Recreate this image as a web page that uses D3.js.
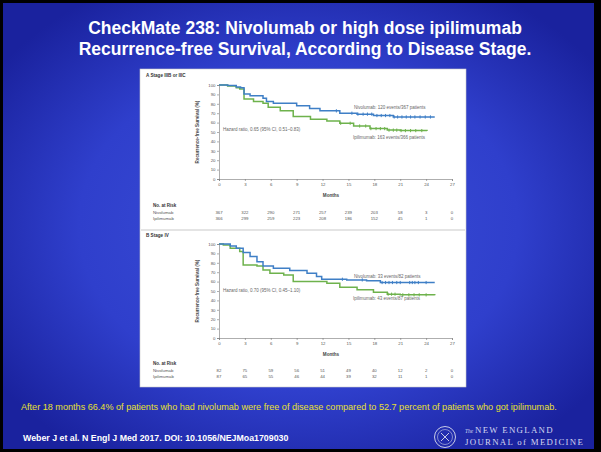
<!DOCTYPE html>
<html>
<head>
<meta charset="utf-8">
<script src="https://cdn.jsdelivr.net/npm/d3@7"></script>
<style>
  body { margin: 0; background: #000; }
  svg { display: block; }
</style>
</head>
<body>
<div id="the_chart"></div>
<script>
// survival curves, [month, % recurrence-free]
var nivoA = [[0,100],[1,99.5],[2,98],[2.5,97],[2.9,90.5],[3.6,88.5],[5.1,86],[5.5,82.5],[6.3,80.5],[9,78],[10.5,75],[11.7,72.5],[14,70],[16,69],[17.9,67.5],[20.2,66],[25,66]];
var ipiA = [[0,100],[1,99],[2,97],[2.4,95.7],[2.9,85],[4,82.5],[5.1,80.7],[5.7,76.4],[7.1,72.5],[8.6,66.4],[10.6,63.6],[12.5,61.8],[14,59.3],[15.6,56.4],[17.5,53.6],[19.5,52],[21,51.5],[24.1,51]];
var nivoB = [[0,100],[1.3,98],[2,95.4],[2.8,91],[3.6,86.6],[4.4,81],[5.1,76.7],[6.3,74.2],[8.2,71.7],[10.2,68.9],[11.3,65.4],[11.9,62.5],[14.8,61.8],[17.1,60.8],[18.7,59],[25,59]];
var ipiB = [[0,100],[0.5,99],[1.3,95.4],[2.4,91.9],[2.8,77.7],[4.4,76.7],[5.1,72.4],[5.9,68.9],[7.5,67.1],[8.6,60],[12.5,58.3],[14,54],[16,51.2],[17.9,48.8],[19.5,46.6],[21,45.9],[25,45.6]];

// censored observations (months)
var nivoA_cens = [13.6,15.4,16.1,16.7,17.2,17.7,18.3,18.8,19.3,19.8,20.3,20.7,21.2,21.7,22.2,22.7,23.3,23.9,24.5];
var ipiA_cens = [14.1,15.2,16.3,17.0,17.6,18.2,18.7,19.2,19.7,20.2,20.6,21.1,21.6,22.2,22.8,23.5];
var nivoB_cens = [14.3,16.6,18.9,19.3,19.7,20.1,20.6,21.0,22.1,22.4,22.7,23.1,24.0];
var ipiB_cens = [19.6,20.0,20.4,21.3,22.0,22.6,23.2,24.0];

var monthTicks = [0,3,6,9,12,15,18,21,24,27];
var pctTicks = [0,10,20,30,40,50,60,70,80,90,100];

// numbers at risk at each month tick
var riskNivoA = [367,322,290,271,257,239,203,58,3,0];
var riskIpiA = [366,299,259,223,208,186,152,45,1,0];
var riskNivoB = [82,75,59,56,51,49,40,12,2,0];
var riskIpiB = [87,65,55,46,44,39,32,11,1,0];

var titleLines = ["CheckMate 238: Nivolumab or high dose ipilimumab",
                  "Recurrence-free Survival, According to Disease Stage."];
var note = "After 18 months 66.4% of patients who had nivolumab were free of disease compared to 52.7 percent of patients who got ipilimumab.";
var cite = "Weber J et al. N Engl J Med 2017. DOI: 10.1056/NEJMoa1709030";

var w = 601, h = 452;
var blue = "#3f7fc6", green = "#6eb24c";

var svg = d3.select("#the_chart")
    .append("svg")
    .attr("width", w)
    .attr("height", h);

var defs = svg.append("defs");
var grad = defs.append("radialGradient")
    .attr("id", "bg")
    .attr("cx", "50%").attr("cy", "50%").attr("r", "62%");
grad.append("stop").attr("offset", "0%").attr("stop-color", "#3c50d8");
grad.append("stop").attr("offset", "60%").attr("stop-color", "#2f3fcc");
grad.append("stop").attr("offset", "100%").attr("stop-color", "#1a229e");

svg.append("rect").attr("width", w).attr("height", h).attr("fill", "#000");
svg.append("rect")
    .attr("x", 3).attr("y", 3)
    .attr("width", 591).attr("height", 446)
    .attr("fill", "url(#bg)");

// title
svg.selectAll(".title")
    .data(titleLines)
    .enter()
    .append("text")
    .attr("x", 305)
    .attr("y", function (d, i) { return 34 + i * 21; })
    .attr("text-anchor", "middle")
    .attr("font-family", "Liberation Sans, Arial, sans-serif")
    .attr("font-weight", "bold")
    .attr("font-size", 17.5)
    .attr("fill", "#fff")
    .text(function (d) { return d; });

// white figure panel
svg.append("rect")
    .attr("x", 140).attr("y", 69)
    .attr("width", 326).attr("height", 318)
    .attr("fill", "#fff")
    .attr("stroke", "#c8c8c8")
    .attr("stroke-width", 0.6);
svg.append("line")
    .attr("x1", 141).attr("x2", 465)
    .attr("y1", 230).attr("y2", 230)
    .attr("stroke", "#bbb").attr("stroke-width", 0.8);

var x = d3.scaleLinear().domain([0, 27]).range([219, 452]);

function stepValue(curve, t) {
    var v = curve[0][1];
    for (var i = 0; i < curve.length; i++) {
        if (curve[i][0] <= t) v = curve[i][1];
    }
    return v;
}

function drawPanel(cfg) {
    var g = svg.append("g");
    var y = d3.scaleLinear().domain([0, 100]).range([cfg.y0, cfg.y0 - 94]);
    var font = "Liberation Sans, Arial, sans-serif";

    g.append("text")
        .attr("x", 146).attr("y", cfg.top + 8)
        .attr("font-family", font).attr("font-size", 4.6).attr("font-weight", "bold")
        .attr("fill", "#333")
        .text(cfg.label);

    var xAxis = d3.axisBottom(x).tickValues(monthTicks).tickSize(2).tickPadding(2);
    var yAxis = d3.axisLeft(y).tickValues(pctTicks).tickSize(2).tickPadding(1.5);

    var gx = g.append("g").attr("transform", "translate(0," + cfg.y0 + ")").call(xAxis);
    var gy = g.append("g").attr("transform", "translate(" + x(0) + ",0)").call(yAxis);
    [gx, gy].forEach(function (a) {
        a.selectAll("path,line").attr("stroke", "#777").attr("stroke-width", 0.6);
        a.selectAll("text").attr("font-size", 4.3).attr("font-family", font).attr("fill", "#555");
    });

    g.append("text")
        .attr("x", 331).attr("y", cfg.y0 + 18)
        .attr("text-anchor", "middle")
        .attr("font-family", font).attr("font-size", 4.6).attr("font-weight", "bold")
        .attr("fill", "#444")
        .text("Months");

    g.append("text")
        .attr("transform", "translate(199," + (cfg.y0 - 47) + ") rotate(-90)")
        .attr("text-anchor", "middle")
        .attr("font-family", font).attr("font-size", 4.6).attr("font-weight", "bold")
        .attr("fill", "#444")
        .text("Recurrence-free Survival (%)");

    var line = d3.line()
        .x(function (d) { return x(d[0]); })
        .y(function (d) { return y(d[1]); })
        .curve(d3.curveStepAfter);

    [[cfg.ipi, cfg.ipiCens, green], [cfg.nivo, cfg.nivoCens, blue]].forEach(function (s) {
        g.append("path")
            .datum(s[0])
            .attr("d", line)
            .attr("fill", "none")
            .attr("stroke", s[2])
            .attr("stroke-width", 1.5);
        g.selectAll(null)
            .data(s[1])
            .enter()
            .append("line")
            .attr("x1", function (d) { return x(d); })
            .attr("x2", function (d) { return x(d); })
            .attr("y1", function (d) { return y(stepValue(s[0], d)) - 1.6; })
            .attr("y2", function (d) { return y(stepValue(s[0], d)) + 1.6; })
            .attr("stroke", s[2])
            .attr("stroke-width", 1);
    });

    var ann = [
        [354, y(cfg.nivoLabelY), cfg.nivoText],
        [353, y(cfg.ipiLabelY), cfg.ipiText],
        [223, y(cfg.hrY), cfg.hrText]
    ];
    g.selectAll(null)
        .data(ann)
        .enter()
        .append("text")
        .attr("x", function (d) { return d[0]; })
        .attr("y", function (d) { return d[1]; })
        .attr("font-family", font).attr("font-size", 4.5)
        .attr("fill", "#666")
        .text(function (d) { return d[2]; });

    // number at risk table
    g.append("text")
        .attr("x", 153).attr("y", cfg.riskY)
        .attr("font-family", font).attr("font-size", 4.5).attr("font-weight", "bold")
        .attr("fill", "#333")
        .text("No. at Risk");
    [["Nivolumab", cfg.riskNivo], ["Ipilimumab", cfg.riskIpi]].forEach(function (r, k) {
        var ry = cfg.riskY + 6.5 + k * 6;
        g.append("text")
            .attr("x", 153).attr("y", ry)
            .attr("font-family", font).attr("font-size", 4.3)
            .attr("fill", "#555")
            .text(r[0]);
        g.selectAll(null)
            .data(r[1])
            .enter()
            .append("text")
            .attr("x", function (d, i) { return x(monthTicks[i]); })
            .attr("y", ry)
            .attr("text-anchor", "middle")
            .attr("font-family", font).attr("font-size", 4.3)
            .attr("fill", "#555")
            .text(function (d) { return d; });
    });
}

drawPanel({
    label: "A  Stage IIIB or IIIC", top: 69, y0: 179,
    nivo: nivoA, ipi: ipiA, nivoCens: nivoA_cens, ipiCens: ipiA_cens,
    nivoText: "Nivolumab: 120 events/367 patients", nivoLabelY: 74.5,
    ipiText: "Ipilimumab: 163 events/366 patients", ipiLabelY: 42.5,
    hrText: "Hazard ratio, 0.65 (95% CI, 0.51\u20130.83)", hrY: 51,
    riskY: 207, riskNivo: riskNivoA, riskIpi: riskIpiA
});

drawPanel({
    label: "B  Stage IV", top: 229, y0: 338,
    nivo: nivoB, ipi: ipiB, nivoCens: nivoB_cens, ipiCens: ipiB_cens,
    nivoText: "Nivolumab: 33 events/82 patients", nivoLabelY: 64,
    ipiText: "Ipilimumab: 43 events/87 patients", ipiLabelY: 40,
    hrText: "Hazard ratio, 0.70 (95% CI, 0.45\u20131.10)", hrY: 48.5,
    riskY: 365, riskNivo: riskNivoB, riskIpi: riskIpiB
});

// footer
svg.append("text")
    .attr("x", 21).attr("y", 410)
    .attr("font-family", "Liberation Sans, Arial, sans-serif")
    .attr("font-size", 9.1)
    .attr("fill", "#e8e030")
    .text(note);

svg.append("text")
    .attr("x", 23).attr("y", 441)
    .attr("font-family", "Liberation Sans, Arial, sans-serif")
    .attr("font-size", 8.8).attr("font-weight", "bold")
    .attr("fill", "#fff")
    .text(cite);

// NEJM seal and name
var seal = svg.append("g").attr("transform", "translate(445,437)");
seal.append("circle").attr("r", 10.5).attr("fill", "none").attr("stroke", "#c8cbe8").attr("stroke-width", 1);
seal.append("circle").attr("r", 7.5).attr("fill", "none").attr("stroke", "#c8cbe8").attr("stroke-width", 0.6);
seal.append("path").attr("d", "M-4,-4L4,4M4,-4L-4,4").attr("stroke", "#c8cbe8").attr("stroke-width", 1);

svg.append("text")
    .attr("x", 465).attr("y", 433)
    .attr("font-family", "Liberation Serif, serif")
    .attr("font-size", 5.5).attr("font-style", "italic")
    .attr("fill", "#d4d6f0")
    .text("The");
svg.append("text")
    .attr("x", 475).attr("y", 433)
    .attr("font-family", "Liberation Serif, serif")
    .attr("font-size", 8.8).attr("letter-spacing", 1.3)
    .attr("fill", "#d4d6f0")
    .text("NEW ENGLAND");
svg.append("text")
    .attr("x", 465).attr("y", 445)
    .attr("font-family", "Liberation Serif, serif")
    .attr("font-size", 8.8).attr("letter-spacing", 1.3)
    .attr("fill", "#d4d6f0")
    .text("JOURNAL of MEDICINE");
</script>
</body>
</html>
